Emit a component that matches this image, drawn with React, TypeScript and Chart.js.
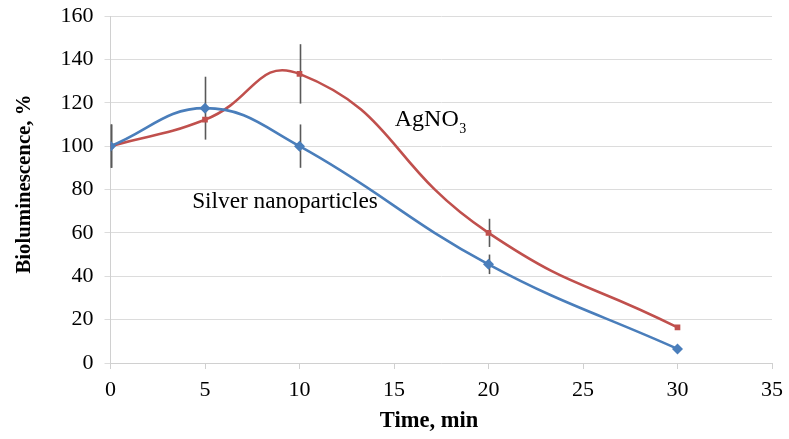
import React, { useEffect, useRef } from "react";
import { Chart, registerables } from "chart.js";

Chart.register(...registerables);

const times = [0, 5, 10, 20, 30];
const silverValues = [100, 117.5, 100, 45.5, 6.5];
const silverErrors = [10, 14.5, 10, 4.5, 0];
const agno3Values = [100, 112.2, 133.3, 60, 16.4];
const agno3Errors = [10, 0, 13.7, 6.5, 1];
const xTicks = [0, 5, 10, 15, 20, 25, 30, 35];
const yTicks = [0, 20, 40, 60, 80, 100, 120, 140, 160];
const xTitle = "Time, min";
const yTitle = "Bioluminescence, %";
const silverLabel = "Silver nanoparticles";
const agLabelMain = "AgNO";
const agLabelSub = "3";

const BLUE = "#4a7ebb";
const RED = "#c0504d";
const SERIF = "'Liberation Serif', 'Times New Roman', serif";

const errorBarPlugin = {
  id: "errorBars",
  beforeDatasetsDraw(chart: any) {
    const { ctx, scales } = chart;
    const xs = scales.x;
    const ys = scales.y;
    ctx.save();
    ctx.strokeStyle = "#595959";
    ctx.lineWidth = 1.6;
    const drawSet = (vals: number[], errs: number[]) => {
      vals.forEach((v, i) => {
        const e = errs[i];
        if (!e) return;
        const px = Math.round(xs.getPixelForValue(times[i])) + 0.5;
        ctx.beginPath();
        ctx.moveTo(px, ys.getPixelForValue(v + e));
        ctx.lineTo(px, ys.getPixelForValue(v - e));
        ctx.stroke();
      });
    };
    drawSet(silverValues, silverErrors);
    drawSet(agno3Values, agno3Errors);
    ctx.restore();
  },
};

const labelPlugin = {
  id: "textLabels",
  afterDraw(chart: any) {
    const { ctx, scales } = chart;
    const xs = scales.x;
    const ys = scales.y;
    ctx.save();
    ctx.fillStyle = "#000";
    ctx.textBaseline = "alphabetic";
    ctx.textAlign = "left";
    // AgNO3 label
    ctx.font = `24px ${SERIF}`;
    let x = xs.getPixelForValue(15.04);
    let y = ys.getPixelForValue(109.4);
    ctx.fillText(agLabelMain, x, y);
    const w = ctx.measureText(agLabelMain).width;
    ctx.font = `14px ${SERIF}`;
    ctx.fillText(agLabelSub, x + w + 0.5, y + 7);
    // Silver nanoparticles label
    ctx.font = `23.3px ${SERIF}`;
    x = xs.getPixelForValue(4.32);
    y = ys.getPixelForValue(71.3);
    ctx.fillText(silverLabel, x, y);
    // X axis title
    ctx.font = `bold 22.5px ${SERIF}`;
    ctx.textAlign = "center";
    ctx.fillText(xTitle, 429, 426.5);
    // Y axis title
    ctx.translate(24.5, 184);
    ctx.rotate(-Math.PI / 2);
    ctx.font = `bold 20.8px ${SERIF}`;
    ctx.textBaseline = "middle";
    ctx.fillText(yTitle, 0, 0);
    ctx.restore();
  },
};

export default function App() {
  const canvasRef = useRef<HTMLCanvasElement | null>(null);

  useEffect(() => {
    document.body.style.margin = "0";
    const canvas = canvasRef.current;
    if (!canvas) return;
    const chart = new Chart(canvas, {
      type: "scatter",
      data: {
        datasets: [
          {
            label: silverLabel,
            data: times.map((t, i) => ({ x: t, y: silverValues[i] })),
            borderColor: BLUE,
            backgroundColor: BLUE,
            borderWidth: 2.6,
            showLine: true,
            tension: 0.42,
            pointStyle: "rectRot",
            pointRadius: 5.5,
            pointBorderWidth: 0,
            order: 1,
          },
          {
            label: "AgNO3",
            data: times.map((t, i) => ({ x: t, y: agno3Values[i] })),
            borderColor: RED,
            backgroundColor: RED,
            borderWidth: 2.6,
            showLine: true,
            tension: 0.5,
            pointStyle: "rect",
            pointRadius: 4,
            pointBorderWidth: 0,
            order: 2,
          },
        ],
      },
      options: {
        animation: false,
        responsive: false,
        maintainAspectRatio: false,
        layout: { padding: { top: 16, right: 17, left: 0, bottom: 0 } },
        plugins: {
          legend: { display: false },
          tooltip: { enabled: false },
        },
        scales: {
          x: {
            type: "linear",
            min: 0,
            max: 35,
            afterBuildTicks: (s: any) => {
              s.ticks = xTicks.map((v) => ({ value: v }));
            },
            afterFit: (s: any) => {
              s.height = 76;
              s.paddingLeft = 0;
              s.paddingRight = 0;
            },
            grid: {
              display: true,
              drawOnChartArea: false,
              drawTicks: true,
              tickLength: 6,
              color: "#d0d0d0",
              lineWidth: 1,
            },
            border: { display: true, color: "#d0d0d0", width: 1 },
            ticks: {
              color: "#000",
              font: { family: SERIF, size: 22 },
              padding: 8,
              maxRotation: 0,
              autoSkip: false,
            },
            title: { display: false },
          },
          y: {
            type: "linear",
            min: 0,
            max: 160,
            afterBuildTicks: (s: any) => {
              s.ticks = yTicks.map((v) => ({ value: v }));
            },
            afterFit: (s: any) => {
              s.width = 110.5;
              s.paddingTop = 0;
              s.paddingBottom = 0;
            },
            grid: {
              display: true,
              drawTicks: true,
              tickLength: 6,
              color: "#dcdcdc",
              lineWidth: 1,
            },
            border: { display: true, color: "#d0d0d0", width: 1 },
            ticks: {
              color: "#000",
              font: { family: SERIF, size: 22 },
              padding: 11,
              autoSkip: false,
            },
            title: { display: false },
          },
        },
      },
      plugins: [errorBarPlugin, labelPlugin],
    });
    return () => chart.destroy();
  }, []);

  return (
    <div style={{ position: "fixed", left: 0, top: 0, width: 789, height: 439, background: "#fff" }}>
      <canvas ref={canvasRef} width={789} height={439} style={{ width: 789, height: 439 }} />
    </div>
  );
}
